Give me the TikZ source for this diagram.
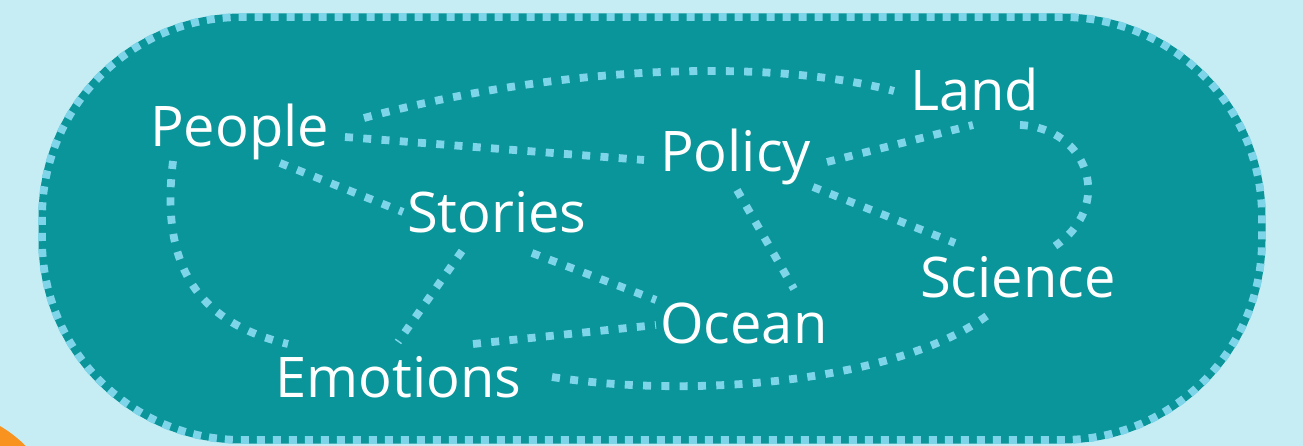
\documentclass[tikz,border=0pt]{standalone}
\usepackage{fontspec}
\setmainfont{Open Sans}
\definecolor{bgblue}{HTML}{C6EDF4}
\definecolor{teal2}{HTML}{099599}
\definecolor{dotblue}{HTML}{7ED5EA}
\definecolor{orng}{HTML}{F7931E}
\begin{document}
\begin{tikzpicture}[x=1pt,y=-1pt,
  word/.style={anchor=base west,inner sep=0pt,text=white,font=\fontsize{56}{60}\selectfont},
  conn/.style={draw=dotblue,line width=7.8pt,dash pattern=on 8pt off 10.3pt},
  rim/.style={draw=dotblue,line width=7.8pt,dash pattern=on 8pt off 8pt}]
\useasboundingbox (0,0) rectangle (1303,446);
\clip (0,0) rectangle (1303,446);
\fill[bgblue] (0,0) rectangle (1303,446);
\fill[orng] (-60,530) circle (120);
\fill[teal2,rounded corners=203.5pt] (38.5,13.5) rectangle (1265.5,443.5);
\draw[rim,rounded corners=200pt] (42,17) rectangle (1262,440);

\node[word] (People) at (150,147) {People};
\node[word] (Land) at (910,111) {Land};
\node[word] (Policy) at (660,172) {Policy};
\node[word] (Stories) at (407,233) {Stories};
\node[word] (Science) at (920,298) {Science};
\node[word] (Ocean) at (660,343) {Ocean};
\node[word] (Emotions) at (275,397) {Emotions};

\draw[conn] ([shift={(214,-29)}]People.base west) .. controls (560,65) and (770,58) .. ([shift={(-16,-20)}]Land.base west);
\draw[conn] ([shift={(195,-10)}]People.base west) -- ([shift={(-16,-12)}]Policy.base west);
\draw[conn] ([shift={(130,16)}]People.base west) -- ([shift={(-4,-21)}]Stories.base west);
\draw[conn] ([shift={(23,14)}]People.base west) .. controls (162,250) and (185,320) .. ([shift={(13,-53)}]Emotions.base west);
\draw[conn] ([shift={(55,18)}]Stories.base west) -- ([shift={(123,-55)}]Emotions.base west);
\draw[conn] ([shift={(125,20)}]Stories.base west) -- ([shift={(-4,-43)}]Ocean.base west);
\draw[conn] ([shift={(198,-53)}]Emotions.base west) -- ([shift={(-4,-18)}]Ocean.base west);
\draw[conn] ([shift={(277,-20)}]Emotions.base west) .. controls (700,400) and (900,380) .. ([shift={(68,17)}]Science.base west);
\draw[conn] ([shift={(77,18)}]Policy.base west) -- ([shift={(134,-54)}]Ocean.base west);
\draw[conn] ([shift={(167,-10)}]Policy.base west) -- ([shift={(63,14)}]Land.base west);
\draw[conn] ([shift={(153,15)}]Policy.base west) -- ([shift={(35,-55)}]Science.base west);
\draw[conn] ([shift={(110,14)}]Land.base west) .. controls (1088,128) and (1115,205) .. ([shift={(135,-52)}]Science.base west);
\end{tikzpicture}
\end{document}
